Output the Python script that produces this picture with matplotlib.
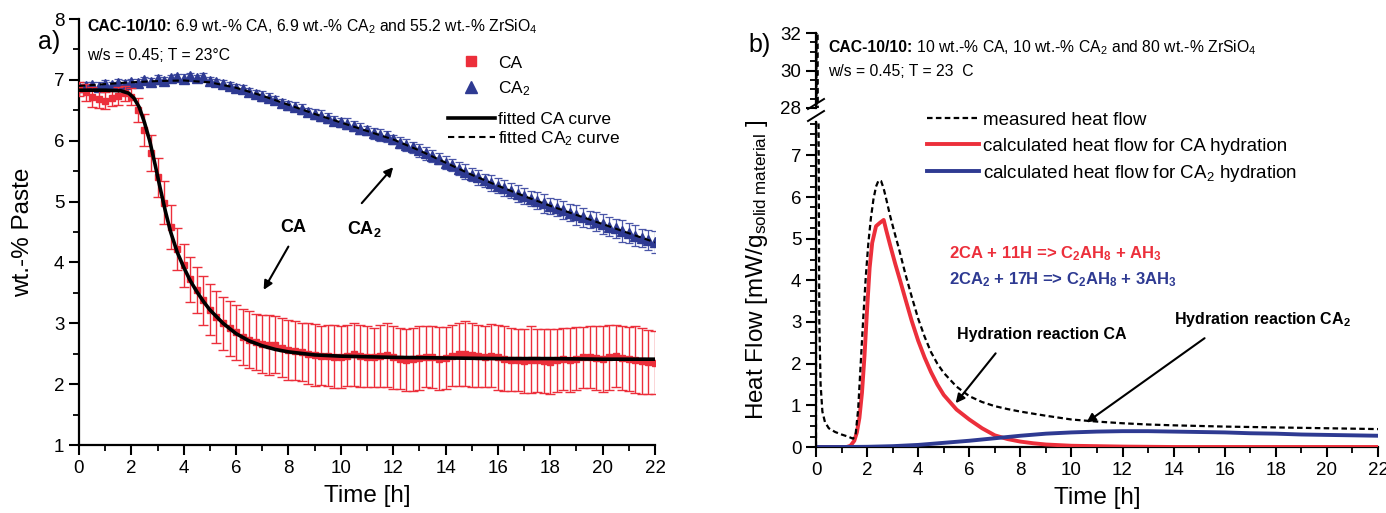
"""
Two-panel figure: wt.-% of CA / CA2 in paste over time (a) and heat flow (b).
"""

import matplotlib
matplotlib.use('Agg')
import matplotlib.pyplot as plt
from matplotlib.lines import Line2D
from matplotlib import font_manager
import numpy as np

installed = {f.name for f in font_manager.fontManager.ttflist}
base_font = 'Liberation Sans Narrow' if 'Liberation Sans Narrow' in installed else 'Liberation Sans'

plt.rcParams['font.family'] = [base_font, 'Liberation Sans', 'DejaVu Sans']
plt.rcParams['mathtext.fontset'] = 'custom'
plt.rcParams['mathtext.rm'] = base_font
plt.rcParams['mathtext.bf'] = base_font + ':bold'
plt.rcParams['mathtext.it'] = base_font + ':italic'
plt.rcParams['mathtext.default'] = 'regular'

# ---------------- panel a) data ----------------
# measured points every 0.25 h from 0 to 22 h
time_a = np.arange(89) * 0.25

ca_wt = [
    6.85, 6.80, 6.72, 6.68, 6.66, 6.70, 6.74, 6.78, 6.72,
    6.50, 6.18, 5.80, 5.40, 4.98, 4.58, 4.22, 3.95,
    3.72, 3.55, 3.38, 3.22, 3.10, 3.00, 2.92, 2.85,
    2.78, 2.73, 2.70, 2.66, 2.64, 2.65, 2.60, 2.56,
    2.55, 2.53, 2.50, 2.48, 2.47, 2.47, 2.45, 2.44,
    2.47, 2.49, 2.46, 2.45, 2.44, 2.47, 2.48, 2.44,
    2.42, 2.40, 2.41, 2.43, 2.45, 2.44, 2.42, 2.43,
    2.47, 2.49, 2.50, 2.48, 2.46, 2.45, 2.47, 2.44,
    2.42, 2.40, 2.39, 2.38, 2.40, 2.39, 2.38, 2.37,
    2.39, 2.41, 2.40, 2.42, 2.44, 2.45, 2.43, 2.41,
    2.44, 2.46, 2.43, 2.41, 2.40, 2.38, 2.36, 2.35,
]
ca_err = [
    0.12, 0.14, 0.16, 0.15, 0.14, 0.13, 0.15, 0.12, 0.14,
    0.20, 0.26, 0.30, 0.32, 0.35, 0.36, 0.35, 0.36,
    0.37, 0.38, 0.40, 0.42, 0.43, 0.44, 0.45, 0.45,
    0.46, 0.47, 0.46, 0.48, 0.49, 0.47, 0.48, 0.50,
    0.49, 0.48, 0.50, 0.51, 0.49, 0.50, 0.52, 0.51,
    0.50, 0.52, 0.51, 0.50, 0.49, 0.51, 0.53, 0.52,
    0.50, 0.51, 0.52, 0.53, 0.50, 0.51, 0.52, 0.51,
    0.50, 0.52, 0.53, 0.52, 0.51, 0.50, 0.52, 0.53,
    0.54, 0.52, 0.51, 0.53, 0.55, 0.52, 0.53, 0.54,
    0.52, 0.51, 0.53, 0.52, 0.50, 0.51, 0.52, 0.54,
    0.53, 0.51, 0.52, 0.53, 0.55, 0.54, 0.53, 0.52,
]
ca2_wt = [
    6.88, 6.90, 6.92, 6.89, 6.94, 6.91, 6.95, 6.93, 6.97,
    6.95, 6.99, 6.97, 7.01, 6.98, 7.03, 7.04, 7.02,
    7.06, 7.03, 7.05, 6.98, 6.96, 6.93, 6.90, 6.87,
    6.85, 6.80, 6.77, 6.74, 6.71, 6.67, 6.62, 6.58,
    6.56, 6.52, 6.47, 6.44, 6.41, 6.37, 6.33, 6.30,
    6.28, 6.24, 6.20, 6.17, 6.12, 6.09, 6.07, 6.02,
    5.97, 5.93, 5.89, 5.84, 5.79, 5.75, 5.70, 5.64,
    5.60, 5.54, 5.49, 5.44, 5.40, 5.35, 5.31, 5.26,
    5.22, 5.18, 5.13, 5.09, 5.05, 5.01, 4.97, 4.93,
    4.90, 4.86, 4.82, 4.78, 4.74, 4.71, 4.67, 4.63,
    4.59, 4.56, 4.52, 4.48, 4.44, 4.40, 4.37, 4.33,
]
ca2_err = [
    0.05, 0.06, 0.05, 0.07, 0.06, 0.05, 0.06, 0.07, 0.05,
    0.06, 0.05, 0.06, 0.07, 0.06, 0.05, 0.06, 0.07,
    0.06, 0.05, 0.06, 0.07, 0.06, 0.06, 0.07, 0.06,
    0.07, 0.06, 0.07, 0.08, 0.07, 0.06, 0.07, 0.08,
    0.07, 0.08, 0.07, 0.08, 0.09, 0.08, 0.07, 0.08,
    0.09, 0.08, 0.09, 0.08, 0.09, 0.10, 0.09, 0.08,
    0.09, 0.10, 0.09, 0.10, 0.11, 0.10, 0.09, 0.11,
    0.10, 0.11, 0.12, 0.11, 0.12, 0.11, 0.13, 0.12,
    0.13, 0.12, 0.14, 0.13, 0.12, 0.14, 0.15, 0.13,
    0.14, 0.15, 0.14, 0.16, 0.15, 0.14, 0.16, 0.17,
    0.15, 0.16, 0.18, 0.16, 0.17, 0.15, 0.17, 0.18,
]

fit_ca_t = [0, 1, 1.6, 1.9, 2.1, 2.3, 2.5, 2.7, 2.9, 3.1, 3.3, 3.5, 3.75, 4.0,
            4.25, 4.5, 4.75, 5.0, 5.5, 6.0, 6.5, 7.0, 7.5, 8.0, 9.0, 10, 12,
            14, 16, 18, 20, 22]
fit_ca = [6.83, 6.83, 6.82, 6.78, 6.70, 6.55, 6.30, 6.00, 5.62, 5.22, 4.84,
          4.50, 4.17, 3.92, 3.70, 3.52, 3.36, 3.22, 3.00, 2.83, 2.71, 2.63,
          2.57, 2.53, 2.48, 2.46, 2.44, 2.43, 2.42, 2.42, 2.41, 2.41]
fit_ca2_t = [0, 1, 2, 3, 4, 5, 6, 7, 8, 9, 10, 11, 12, 13, 14, 15, 16, 17, 18,
             19, 20, 21, 22]
fit_ca2 = [6.90, 6.93, 6.96, 6.98, 6.99, 6.96, 6.87, 6.74, 6.59, 6.44, 6.30,
           6.16, 6.02, 5.84, 5.64, 5.44, 5.26, 5.09, 4.93, 4.78, 4.63, 4.48, 4.33]

# ---------------- panel b) data ----------------
meas_t = [0.0, 0.02, 0.06, 0.1, 0.13, 0.18, 0.25, 0.35, 0.5, 0.75, 1.0, 1.25,
          1.45, 1.55, 1.65, 1.75, 1.85, 1.95, 2.05, 2.15, 2.25, 2.35, 2.45,
          2.55, 2.65, 2.75, 2.9, 3.05, 3.25, 3.5, 3.75, 4.0, 4.25, 4.5, 4.75,
          5.0, 5.5, 6.0, 6.5, 7.0, 7.5, 8.0, 9.0, 10.0, 11.0, 12.0, 13.0,
          14.0, 16.0, 18.0, 20.0, 22.0]
meas_hf = [0.0, 34.0, 34.0, 8.0, 3.0, 1.5, 0.85, 0.6, 0.45, 0.36, 0.30, 0.25,
           0.20, 0.30, 0.90, 2.00, 3.10, 4.10, 4.90, 5.50, 5.95, 6.25, 6.40,
           6.38, 6.20, 5.95, 5.55, 5.20, 4.75, 4.15, 3.60, 3.08, 2.65, 2.28,
           2.00, 1.78, 1.45, 1.22, 1.08, 0.98, 0.91, 0.85, 0.75, 0.66, 0.61,
           0.57, 0.54, 0.52, 0.49, 0.47, 0.45, 0.43]
calc_ca_t = [0, 1.2, 1.35, 1.5, 1.6, 1.7, 1.8, 1.9, 2.0, 2.1, 2.2, 2.35, 2.5,
             2.65, 2.75, 2.9, 3.1, 3.3, 3.5, 3.75, 4.0, 4.25, 4.5, 4.75, 5.0,
             5.5, 6.0, 6.5, 7.0, 7.5, 8.0, 8.5, 9.0, 10.0, 11.0, 12.0, 14.0,
             16.0, 18.0, 20.0, 22.0]
calc_ca = [0.0, 0.0, 0.03, 0.15, 0.35, 0.70, 1.30, 2.20, 3.30, 4.30, 4.90,
           5.30, 5.38, 5.45, 5.20, 4.85, 4.40, 3.98, 3.55, 3.02, 2.55, 2.15,
           1.80, 1.50, 1.25, 0.90, 0.66, 0.45, 0.28, 0.19, 0.13, 0.09, 0.06,
           0.03, 0.02, 0.01, 0.0, 0.0, 0.0, 0.0, 0.0]
calc_ca2_t = [0, 1, 2, 3, 4, 5, 6, 7, 8, 9, 10, 11, 12, 13, 14, 15, 16, 17, 18,
              19, 20, 21, 22]
calc_ca2 = [0.0, 0.0, 0.005, 0.02, 0.05, 0.10, 0.15, 0.21, 0.27, 0.32, 0.35,
            0.37, 0.38, 0.38, 0.37, 0.36, 0.35, 0.33, 0.32, 0.30, 0.29, 0.28, 0.27]

red = '#EC2F3B'
blue = '#2E3A92'

W, H = 1386, 513
fig = plt.figure(figsize=(W / 100, H / 100), dpi=100)
renderer = fig.canvas.get_renderer()


def px_axes(x0, y0, x1, y1):
    # pixel box (left, top, right, bottom) -> figure axes
    return fig.add_axes([x0 / W, 1 - y1 / H, (x1 - x0) / W, (y1 - y0) / H])


def style(ax):
    ax.spines['top'].set_visible(False)
    ax.spines['right'].set_visible(False)
    for s in ('left', 'bottom'):
        ax.spines[s].set_linewidth(1.6)
    ax.tick_params(which='major', direction='out', length=7, width=1.5, labelsize=13.5)
    ax.tick_params(which='minor', direction='out', length=4, width=1.3)


def bold_lead(x_px, y_px, lead, rest, size):
    # bold "lead" followed by regular "rest", positioned in figure pixels
    t = fig.text(x_px / W, 1 - y_px / H, lead, fontsize=size, fontweight='bold',
                 va='center', ha='left')
    bb = t.get_window_extent(renderer)
    fig.text(bb.x1 / W, 1 - y_px / H, ' ' + rest, fontsize=size,
             va='center', ha='left')


# ---------------- panel a ----------------
ax1 = px_axes(79, 19, 655, 445)
style(ax1)
ax1.errorbar(time_a, ca2_wt, yerr=ca2_err, fmt='^', color=blue, ms=7,
             ecolor='#4A56A8', elinewidth=0.9, capsize=3, capthick=0.9, zorder=2)
ax1.errorbar(time_a, ca_wt, yerr=ca_err, fmt='s', color=red, ms=5,
             ecolor=red, elinewidth=1.0, capsize=3.5, capthick=1.0, zorder=3)
ax1.plot(fit_ca_t, fit_ca, color='black', lw=2.6, zorder=4)
ax1.plot(fit_ca2_t, fit_ca2, color='black', lw=1.5, ls=(0, (3, 2)), zorder=4)

ax1.set_xlim(0, 22)
ax1.set_ylim(1, 8)
ax1.set_xticks(range(0, 23, 2))
ax1.set_xticks(range(0, 23), minor=True)
ax1.set_yticks(range(1, 9))
ax1.set_yticks(np.arange(1, 8.01, 0.5), minor=True)
ax1.set_xlabel('Time [h]', fontsize=17.5, labelpad=6)
ax1.set_ylabel('wt.-% Paste', fontsize=17.5, labelpad=14)

bold_lead(87, 27, 'CAC-10/10:',
          '6.9 wt.-% CA, 6.9 wt.-% CA$_2$ and 55.2 wt.-% ZrSiO$_4$', 11.3)
fig.text(87 / W, 1 - 56 / H, 'w/s = 0.45; T = 23°C', fontsize=11.3,
         va='center', ha='left')
fig.text(38 / W, 1 - 42 / H, 'a)', fontsize=18, va='center', ha='left')

# markers legend and fitted-curve legend
leg_pts = ax1.legend(
    [Line2D([], [], ls='none', marker='s', color=red, ms=6.5),
     Line2D([], [], ls='none', marker='^', color=blue, ms=9)],
    ['CA', 'CA$_2$'], loc='upper left', bbox_to_anchor=(0.625, 0.935),
    frameon=False, fontsize=12.5, handlelength=2.7, handletextpad=0.2,
    labelspacing=0.5, borderpad=0)
ax1.add_artist(leg_pts)
ax1.legend(
    [Line2D([], [], color='black', lw=2.6),
     Line2D([], [], color='black', lw=1.5, ls=(0, (3, 2)))],
    ['fitted CA curve', 'fitted CA$_2$ curve'], loc='upper left',
    bbox_to_anchor=(0.625, 0.802), frameon=False, fontsize=12.5,
    handlelength=2.7, handletextpad=0.2, labelspacing=0.1, borderpad=0)

ax1.text(8.2, 4.57, 'CA', fontsize=13, fontweight='bold', ha='center', va='center')
ax1.text(10.9, 4.55, 'CA$_2$', fontsize=13, fontweight='bold', ha='center',
         va='center')
ax1.annotate('', xy=(7.0, 3.51), xytext=(8.05, 4.3),
             arrowprops=dict(arrowstyle='-|>', color='black', lw=1.5,
                             mutation_scale=13))
ax1.annotate('', xy=(12.07, 5.6), xytext=(10.73, 4.94),
             arrowprops=dict(arrowstyle='-|>', color='black', lw=1.5,
                             mutation_scale=13))

# ---------------- panel b ----------------
ax_lo = px_axes(816, 122, 1378, 447)
ax_hi = px_axes(816, 33, 1378, 108)
ax_hi.patch.set_visible(False)
for ax in (ax_lo, ax_hi):
    style(ax)
    ax.plot(meas_t, meas_hf, color='black', lw=1.6, ls=(0, (2.5, 1.5)), zorder=4)
    ax.plot(calc_ca_t, calc_ca, color=red, lw=2.8, zorder=3)
    ax.plot(calc_ca2_t, calc_ca2, color=blue, lw=2.8, zorder=3)
    ax.set_xlim(0, 22)

ax_lo.set_ylim(0, 7.8)
ax_lo.set_yticks(range(0, 8))
ax_lo.set_yticks(np.arange(0, 7.81, 0.25), minor=True)
ax_lo.set_xticks(range(0, 23, 2))
ax_lo.set_xticks(range(0, 23), minor=True)
ax_lo.set_xlabel('Time [h]', fontsize=17.5, labelpad=6)

ax_hi.set_ylim(28, 32)
ax_hi.set_yticks([28, 30, 32])
ax_hi.set_yticks(np.arange(28, 32.01, 0.5), minor=True)
ax_hi.spines['bottom'].set_visible(False)
ax_hi.set_xticks([])

# break marks on the left spine
for yb in (104, 116):
    fig.add_artist(Line2D([808 / W, 824 / W], [1 - (yb + 5) / H, 1 - (yb - 5) / H],
                          color='black', lw=1.4))

fig.text(757 / W, 1 - 270 / H,
         r'Heat Flow [mW/g$_{\mathrm{solid\ material}}$ ]',
         rotation=90, fontsize=17.5, ha='center', va='center')
fig.text(748 / W, 1 - 45 / H, 'b)', fontsize=18, va='center', ha='left')

bold_lead(828, 48, 'CAC-10/10:',
          '10 wt.-% CA, 10 wt.-% CA$_2$ and 80 wt.-% ZrSiO$_4$', 11.3)
fig.text(828 / W, 1 - 72 / H, 'w/s = 0.45; T = 23  C', fontsize=11.3,
         va='center', ha='left')

handles_b = [
    Line2D([], [], color='black', lw=1.6, ls=(0, (2.5, 1.5))),
    Line2D([], [], color=red, lw=2.8),
    Line2D([], [], color=blue, lw=2.8),
]
labels_b = ['measured heat flow', 'calculated heat flow for CA hydration',
            'calculated heat flow for CA$_2$ hydration']
leg_b = ax_lo.legend(handles_b, labels_b, loc='upper left',
                     bbox_to_anchor=(0.18, 1.06), frameon=False, fontsize=13.5,
                     handlelength=2.8, handletextpad=0.2, labelspacing=0.45,
                     borderpad=0)
leg_b.set_zorder(10)

ax_lo.text(5.2, 4.65, '2CA + 11H => C$_2$AH$_8$ + AH$_3$', color=red,
           fontsize=12, fontweight='bold', ha='left', va='center')
ax_lo.text(5.2, 4.02, '2CA$_2$ + 17H => C$_2$AH$_8$ + 3AH$_3$', color=blue,
           fontsize=12, fontweight='bold', ha='left', va='center')

ax_lo.text(5.5, 2.7, 'Hydration reaction CA', fontsize=11.5, fontweight='bold',
           ha='left', va='center')
ax_lo.text(14.0, 3.05, 'Hydration reaction CA$_2$', fontsize=11.5,
           fontweight='bold', ha='left', va='center')
ax_lo.annotate('', xy=(5.4, 1.0), xytext=(7.1, 2.3),
               arrowprops=dict(arrowstyle='-|>', color='black', lw=1.5,
                               mutation_scale=13))
ax_lo.annotate('', xy=(10.5, 0.55), xytext=(15.3, 2.65),
               arrowprops=dict(arrowstyle='-|>', color='black', lw=1.5,
                               mutation_scale=13))

fig.savefig('out.png', dpi=100)
